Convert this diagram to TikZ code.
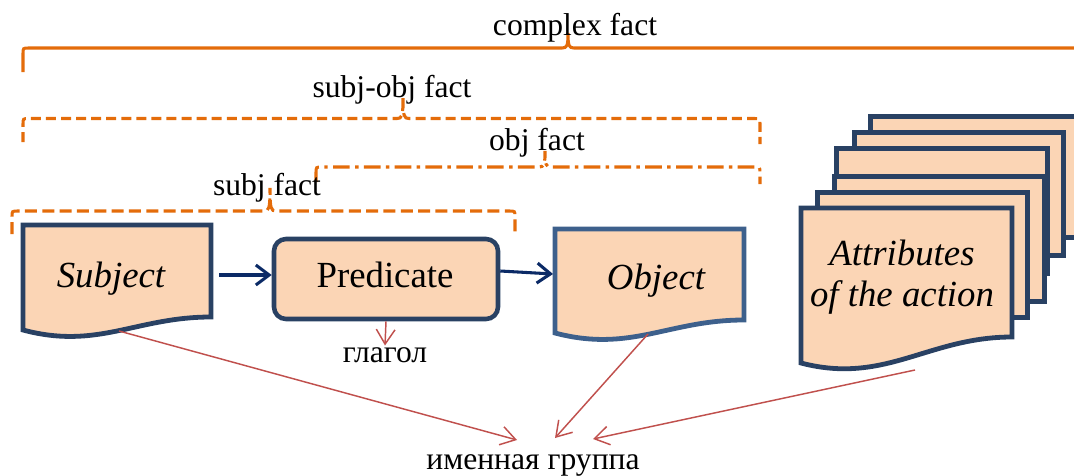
\documentclass[tikz,border=0pt]{standalone}
\usepackage{fontspec}
\setmainfont{Liberation Serif}
\usetikzlibrary{arrows.meta,calc}

\definecolor{peach}{HTML}{FBD5B5}
\definecolor{navyedge}{HTML}{294163}
\definecolor{steeledge}{HTML}{3D608C}
\definecolor{flowblue}{HTML}{0B2A66}
\definecolor{factorange}{HTML}{E46C0A}
\definecolor{linkred}{HTML}{C0504D}

% curly brace over a group: #2 left x, #3 left foot y, #4 bar y,
% #5 tip x, #6 tip y, #7 right x, #8 right foot y
\newcommand{\factbrace}[8][]{%
  \draw[bracestyle,#1] (#2,#3) -- (#2,#4+6) .. controls (#2,#4) .. (#2+6,#4)
    -- (#5-6,#4) .. controls (#5-1,#4) and (#5,#4-2) .. (#5,#6)
    .. controls (#5,#4-2) and (#5+1,#4) .. (#5+6,#4)
    -- (#7-6,#4) .. controls (#7,#4) .. (#7,#4+6) -- (#7,#8);}

\tikzset{
  bracestyle/.style={draw=factorange, line width=2.3pt, line cap=butt},
  solidbrace/.style={},
  dashbrace/.style={dash pattern=on 7.5pt off 3.8pt},
  longdashbrace/.style={dash pattern=on 9pt off 4pt},
  dotdashbrace/.style={dash pattern=on 12.5pt off 4pt on 2.6pt off 4pt},
  card/.style={draw=navyedge, fill=peach, line width=3.6pt, line join=miter},
  objcard/.style={draw=steeledge, fill=peach, line width=3.6pt, line join=miter},
  predbox/.style={draw=navyedge, fill=peach, line width=3.4pt, rounded corners=9pt,
    minimum width=168pt, minimum height=60pt, inner sep=0pt},
  boxtext/.style={inner sep=0pt, font=\fontsize{27.6}{31}\selectfont\itshape},
  predtext/.style={inner sep=0pt, font=\fontsize{27.6}{31}\selectfont},
  factlabel/.style={inner sep=0pt, font=\fontsize{23.7}{28}\selectfont},
  wordlabel/.style={inner sep=1pt, font=\fontsize{23.7}{28}\selectfont},
  flowarrow/.style={draw=flowblue, line width=2.3pt,
    -{Straight Barb[length=10pt,width=15pt]}},
  linkarrow/.style={draw=linkred, line width=1.1pt,
    -{Straight Barb[length=11pt,width=14pt]}}
}

\begin{document}
\begin{tikzpicture}[x=0.75pt, y=-0.75pt]
\useasboundingbox (0,0) rectangle (1074,475);
\clip (0,0) rectangle (1074,475);

% ---- braces naming the facts ----
\factbrace[solidbrace]{23}{72}{48}{568}{33}{1100}{72}
\factbrace[dashbrace]{23}{142}{118.5}{403}{97}{760}{144}
\factbrace[dotdashbrace]{316}{182}{167}{545}{151}{760}{184}
\factbrace[longdashbrace]{12}{234}{211}{270}{188}{515}{233}

\node[factlabel, anchor=base] (complex) at (575,35) {complex fact};
\node[factlabel, anchor=base] (subjobj) at (392,97) {subj-obj fact};
\node[factlabel, anchor=base] (objfact) at (537,150) {obj fact};
\node[factlabel, anchor=base] (subjfact) at (267,195) {subj fact};

% ---- Subject document ----
\draw[card] (23,225) -- (211,225) -- (211,317)
  .. controls (136,317) and (98,350) .. (23,330) -- cycle;
\node[boxtext, anchor=base] (subj) at (111,287) {Subject};
\coordinate (subjout) at (219,275);
\coordinate (subjwave) at (119,331);

% ---- Predicate ----
\node[predbox] (pred) at (386,279) {};
\node[predtext, anchor=base] (predtxt) at (385,287) {Predicate};

% ---- Object document ----
\draw[objcard] (555,229) -- (744,229) -- (744,320)
  .. controls (668,320) and (631,353) .. (555,333) -- cycle;
\node[boxtext, anchor=base] (obj) at (656,289) {Object};
\coordinate (objin) at (553,274);
\coordinate (objwave) at (648,334);

% ---- stack of attribute sheets, back to front ----
\draw[card] (870.5,116.5) rectangle (1087.5,237.5);
\draw[card] (854.5,132.5) rectangle (1063.5,255.5);
\draw[card] (836.5,148.5) rectangle (1047.5,273.5);
\draw[card] (834.5,176.5) rectangle (1044.5,301.5);
\draw[card] (817.5,192.5) rectangle (1027.5,317.5);
\draw[card] (801,208) -- (1012,208) -- (1012,337)
  .. controls (928,337) and (885,385) .. (801,363) -- cycle;
\node[boxtext, anchor=base] (attr1) at (902,265) {Attributes};
\node[boxtext, anchor=base] (attr2) at (902,306) {of the action};
\coordinate (attrout) at (915,370);

% ---- flow between the parts of the sentence ----
\draw[flowarrow] (subjout) -- (subjout -| pred.west);
\draw[flowarrow] (pred.east |- 0,271) -- (objin);

% ---- word classes ----
\node[wordlabel, anchor=base] (verb) at (385,362) {глагол};
\node[factlabel, anchor=base] (np) at (533,469) {именная группа};
\coordinate (np1) at (517,440);
\coordinate (np2) at (555,438);
\coordinate (np3) at (593,439);

\draw[linkarrow] (pred.south) -- (verb.north);
\draw[linkarrow] (subjwave) -- (np1);
\draw[linkarrow] (objwave) -- (np2);
\draw[linkarrow] (attrout) -- (np3);
\end{tikzpicture}
\end{document}
